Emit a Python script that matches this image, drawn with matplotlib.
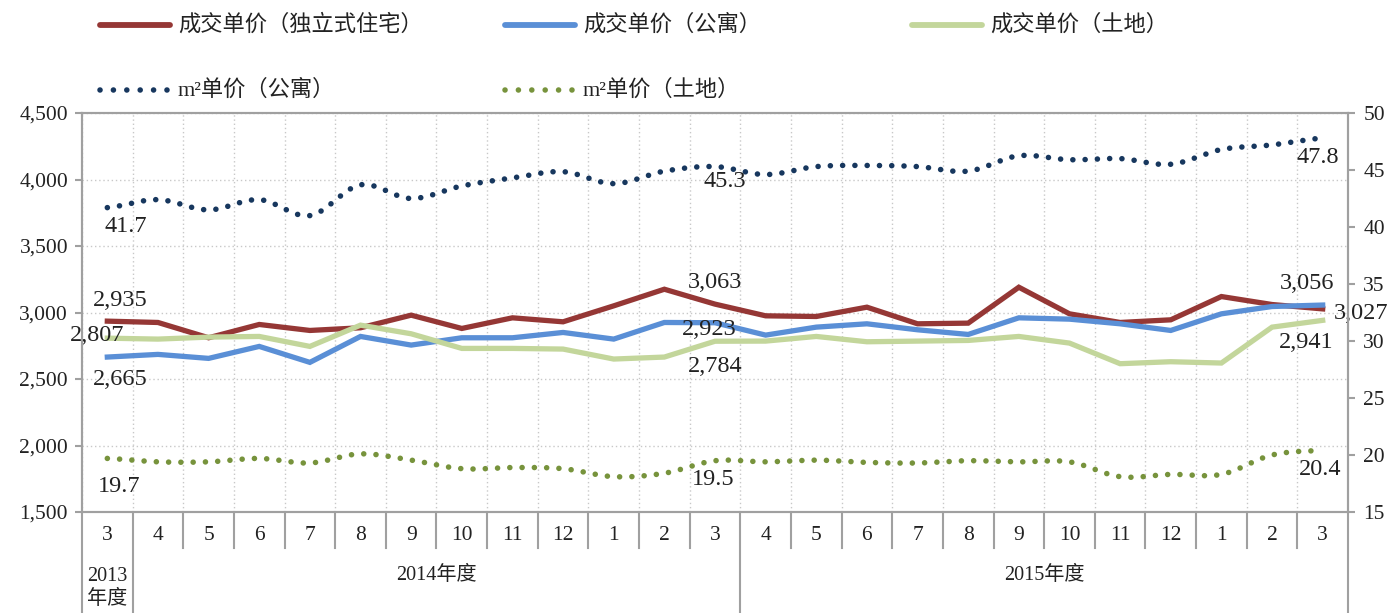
import numpy as np
import matplotlib
matplotlib.use('Agg')
import matplotlib.pyplot as plt
from matplotlib.lines import Line2D
from matplotlib.ticker import FixedLocator, FuncFormatter

# ---------------- data ----------------
months = ['3', '4', '5', '6', '7', '8', '9', '10', '11', '12', '1', '2', '3',
          '4', '5', '6', '7', '8', '9', '10', '11', '12', '1', '2', '3']
group_labels = ['2013\n年度', '2014年度', '2015年度']
group_spans = [(0, 0), (1, 12), (13, 24)]

house = [2935, 2925, 2810, 2910, 2865, 2885, 2980, 2880, 2960, 2930, 3050, 3175, 3063,
         2975, 2970, 3040, 2915, 2920, 3190, 2990, 2925, 2945, 3120, 3060, 3027]
apartment = [2665, 2685, 2655, 2745, 2625, 2820, 2755, 2810, 2810, 2850, 2800, 2925, 2923,
             2830, 2890, 2915, 2870, 2835, 2960, 2950, 2915, 2865, 2990, 3045, 3056]
land = [2807, 2800, 2815, 2820, 2745, 2905, 2840, 2730, 2730, 2725, 2650, 2665, 2784,
        2785, 2820, 2780, 2785, 2790, 2820, 2770, 2615, 2630, 2620, 2890, 2941]
apt_m2 = [41.7, 42.4, 41.5, 42.4, 41.0, 43.7, 42.5, 43.6, 44.3, 44.85, 43.8, 44.9, 45.3,
          44.6, 45.3, 45.4, 45.3, 44.9, 46.25, 45.9, 46.0, 45.5, 46.8, 47.2, 47.8]
land_m2 = [19.7, 19.4, 19.4, 19.7, 19.3, 20.1, 19.55, 18.8, 18.9, 18.8, 18.1, 18.4, 19.5,
           19.4, 19.55, 19.35, 19.3, 19.5, 19.4, 19.4, 18.1, 18.3, 18.3, 20.0, 20.4]

names = ['成交单价（独立式住宅）', '成交单价（公寓）', '成交单价（土地）',
         'm²单价（公寓）', 'm²单价（土地）']
colors = ['#953735', '#5A8FD6', '#C3D69B', '#17375E', '#77933C']

plt.rcParams['font.family'] = ['Liberation Serif', 'Noto Sans CJK SC']

W, H = 1392, 613
fig = plt.figure(figsize=(W / 100, H / 100), dpi=100)
ax = fig.add_axes([82 / W, 1 - 512 / H, (1348 - 82) / W, (512 - 113) / H])
ax2 = ax.twinx()

x = np.arange(len(months))


def smooth(vals, n=24):
    y = np.asarray(vals, dtype=float)
    yp = np.concatenate([[y[0]], y, [y[-1]]])
    xs, ys = [], []
    for i in range(len(y) - 1):
        p0, p1, p2, p3 = yp[i], yp[i + 1], yp[i + 2], yp[i + 3]
        t = np.linspace(0, 1, n, endpoint=False)
        yy = 0.5 * (2 * p1 + (-p0 + p2) * t + (2 * p0 - 5 * p1 + 4 * p2 - p3) * t ** 2
                    + (-p0 + 3 * p1 - 3 * p2 + p3) * t ** 3)
        xs.append(i + t)
        ys.append(yy)
    xs.append([len(y) - 1])
    ys.append([y[-1]])
    return np.concatenate(xs), np.concatenate(ys)


lw_solid = 3.8
ax.plot(x, house, color=colors[0], lw=lw_solid, solid_joinstyle='miter', zorder=3)
ax.plot(x, apartment, color=colors[1], lw=lw_solid, solid_joinstyle='miter', zorder=3)
ax.plot(x, land, color=colors[2], lw=lw_solid, solid_joinstyle='miter', zorder=3)

dot_style = dict(lw=4.0, linestyle=(0, (0.01, 2.2)), dash_capstyle='round', zorder=4)
sx, sy = smooth(apt_m2)
ax2.plot(sx, sy, color=colors[3], **dot_style)
sx, sy = smooth(land_m2)
ax2.plot(sx, sy, color=colors[4], **dot_style)

# ---------------- axes ----------------
ax.set_xlim(-0.5, len(months) - 0.5)
ax.set_ylim(1500, 4500)
ax2.set_ylim(15, 50)
ax.set_yticks(np.arange(1500, 4501, 500))
ax2.set_yticks(np.arange(15, 51, 5))
ax.yaxis.set_major_formatter(FuncFormatter(lambda v, p: f'{int(v):,}'))

spine_c = '#A0A0A0'
for a in (ax, ax2):
    for s in a.spines.values():
        s.set_color(spine_c)
        s.set_linewidth(1.5)
ax.tick_params(axis='y', direction='out', length=5, width=1.5, color=spine_c,
               labelsize=15.5, pad=5, labelcolor='#222222')
ax2.tick_params(axis='y', direction='out', length=5, width=1.5, color=spine_c,
                labelsize=15.5, pad=6, labelcolor='#222222')

bounds = np.arange(len(months) + 1) - 0.5
ax.xaxis.set_major_locator(FixedLocator(bounds))
ax.tick_params(axis='x', which='major', length=0, labelbottom=False)
ax.grid(True, which='major', axis='both', color='#C8C8C8', linestyle=(0, (1, 2)), lw=1.0)
ax.set_axisbelow(True)

xt = ax.get_xaxis_transform()
group_bounds = [-0.5] + [e + 0.5 for _, e in group_spans]
for b in bounds:
    if b in group_bounds:
        ax.plot([b, b], [0, -0.3], transform=xt, clip_on=False, color=spine_c, lw=1.5)
    else:
        ax.plot([b, b], [0, -36 / 399], transform=xt, clip_on=False, color=spine_c, lw=1.5)

for i, m in enumerate(months):
    ax.annotate(m, xy=(i, 0), xycoords=xt, xytext=(0, -23), textcoords='offset pixels',
                ha='center', va='center', fontsize=15.5, color='#222222')
for lab, (s, e) in zip(group_labels, group_spans):
    c = (s + e) / 2
    if '\n' in lab:
        ax.annotate(lab, xy=(c, 0), xycoords=xt, xytext=(0, -76), textcoords='offset pixels',
                    ha='center', va='center', fontsize=14.5, color='#222222', linespacing=1.25)
    else:
        ax.annotate(lab, xy=(c, 0), xycoords=xt, xytext=(0, -63), textcoords='offset pixels',
                    ha='center', va='center', fontsize=14.5, color='#222222')

# ---------------- data labels ----------------
lab_kw = dict(textcoords='offset pixels', ha='center', va='center', fontsize=17.5, color='#222222',
              zorder=6)
last = len(months) - 1
mid = 12
ax.annotate(f'{house[0]:,}', (0, house[0]), xytext=(13, 21), **lab_kw)
ax.annotate(f'{land[0]:,}', (0, land[0]), xytext=(-10, 3), **lab_kw)
ax.annotate(f'{apartment[0]:,}', (0, apartment[0]), xytext=(13, -22), **lab_kw)
ax.annotate(f'{house[mid]:,}', (mid, house[mid]), xytext=(0, 22), **lab_kw)
ax.annotate(f'{apartment[mid]:,}', (mid, apartment[mid]), xytext=(-6, -7), **lab_kw)
ax.annotate(f'{land[mid]:,}', (mid, land[mid]), xytext=(0, -25), **lab_kw)
ax.annotate(f'{apartment[last]:,}', (last, apartment[last]), xytext=(-16, 22), **lab_kw)
ax.annotate(f'{house[last]:,}', (last, house[last]), xytext=(38, -5), **lab_kw)
ax.annotate(f'{land[last]:,}', (last, land[last]), xytext=(-16, -22), **lab_kw)
ax2.annotate(f'{apt_m2[0]:.1f}', (0, apt_m2[0]), xytext=(18, -19), **lab_kw)
ax2.annotate(f'{apt_m2[mid]:.1f}', (mid, apt_m2[mid]), xytext=(10, -15), **lab_kw)
ax2.annotate(f'{apt_m2[last]:.1f}', (last, apt_m2[last]), xytext=(-5, -19), **lab_kw)
ax2.annotate(f'{land_m2[0]:.1f}', (0, land_m2[0]), xytext=(12, -28), **lab_kw)
ax2.annotate(f'{land_m2[mid]:.1f}', (mid, land_m2[mid]), xytext=(-2, -19), **lab_kw)
ax2.annotate(f'{land_m2[last]:.1f}', (last, land_m2[last]), xytext=(-3, -19), **lab_kw)

# ---------------- legend ----------------
legend_slots = [(100, 25), (505, 25), (912, 25), (100, 90), (505, 90)]
for k, (lx, ly) in enumerate(legend_slots):
    yy = 1 - ly / H
    if k < 3:
        fig.add_artist(Line2D([lx / W, (lx + 70) / W], [yy, yy], color=colors[k], lw=4.2,
                              solid_capstyle='round', transform=fig.transFigure))
    else:
        fig.add_artist(Line2D([lx / W, (lx + 68) / W], [yy, yy], color=colors[k], lw=4.0,
                              linestyle=(0, (0.01, 2.4)), dash_capstyle='round',
                              transform=fig.transFigure))
    fig.text((lx + 78) / W, yy, names[k], ha='left', va='center', fontsize=16,
             color='#222222')

fig.savefig('out.png', dpi=100)
